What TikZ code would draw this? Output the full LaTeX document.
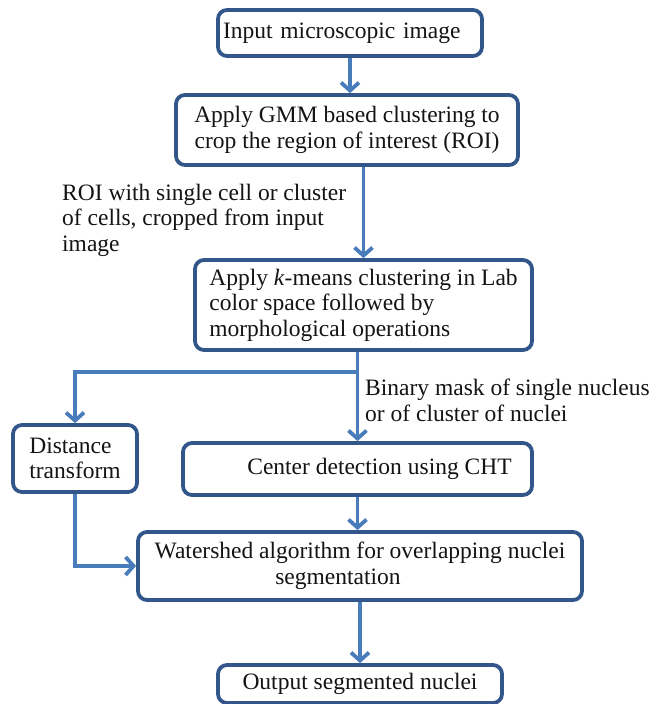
\documentclass[tikz,border=0pt]{standalone}
\usepackage{fontspec}
\setmainfont{Liberation Serif}
\usetikzlibrary{arrows.meta}
\definecolor{boxblue}{RGB}{50,86,138}
\definecolor{linkblue}{RGB}{72,124,186}
\definecolor{ink}{RGB}{20,20,20}
\begin{document}
\begin{tikzpicture}[x=1pt,y=-1pt,
  every node/.style={font=\fontsize{23.5}{25.5}\selectfont, text=ink},
  stepbox/.style={draw=boxblue, line width=3.8pt, rounded corners=9pt, inner sep=0pt, fill=white},
  link/.style={draw=linkblue, line width=3.8pt, -{Straight Barb[length=8pt,width=18pt]}}
]
\fill[white] (0,0) rectangle (651,704);
\useasboundingbox (0,0) rectangle (651,704);

% process steps
\node[stepbox, minimum width=264pt, minimum height=46pt, text width=254pt, align=left]
  (in) at (350,33) {Input microscopic image};
\node[stepbox, minimum width=342pt, minimum height=70pt, align=center]
  (gmm) at (347,130) {Apply GMM based clustering to\\crop the region of interest (ROI)};
\node[stepbox, minimum width=337pt, minimum height=90pt, align=left]
  (km) at (363.5,305) {Apply \textit{k}-means clustering in Lab\\color space followed by\\morphological operations};
\node[stepbox, minimum width=124pt, minimum height=67pt, align=left]
  (dist) at (75,458.5) {Distance\\transform};
\node[stepbox, minimum width=349pt, minimum height=52pt]
  (cht) at (357.5,469) {\hspace*{44pt}Center detection using CHT};
\node[stepbox, minimum width=444pt, minimum height=68pt, align=center]
  (ws) at (360,566) {Watershed algorithm for overlapping nuclei\\segmentation\hspace*{44pt}};
\node[stepbox, minimum width=284pt, minimum height=38pt]
  (out) at (360,684) {Output segmented nuclei};

% edge annotations
\node[anchor=west, align=left, inner sep=0pt] (roi) at (62,220)
  {ROI with single cell or cluster\\of cells, cropped from input\\image};
\node[anchor=west, align=left, inner sep=0pt] (mask) at (365,400.5)
  {Binary mask of single nucleus\\or of cluster of nuclei};

% connectors
\draw[link] (in.south) -- (in.south |- gmm.north);
\draw[link] (gmm.south -| km.north) -- (km.north);
\draw[link] (km.south -| cht.north) -- (cht.north);
\draw[link] (km.south -| cht.north) -- ++(0,20) -| (dist.north);
\draw[link] (cht.south) -- (cht.south |- ws.north);
\draw[link] (dist.south) |- (ws.west);
\draw[link] (ws.south -| out.north) -- (out.north);
\end{tikzpicture}
\end{document}
